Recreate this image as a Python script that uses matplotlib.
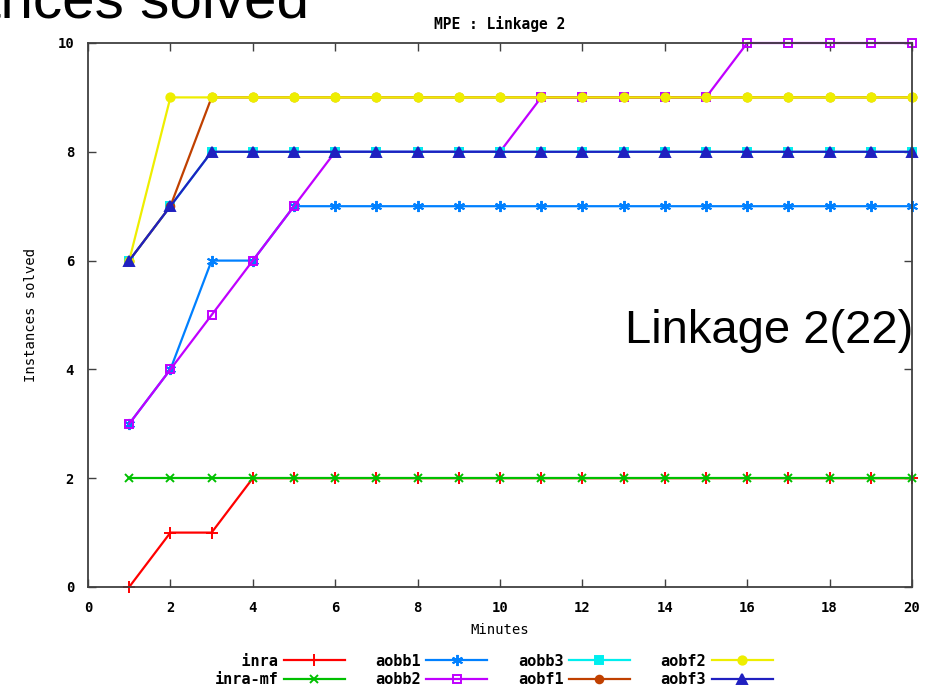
import matplotlib
matplotlib.use("Agg")
import matplotlib.pyplot as plt

# minutes on the x axis
minutes = list(range(1, 21))

# instances solved per solver
inra    = [0, 1, 1, 2, 2, 2, 2, 2, 2, 2, 2, 2, 2, 2, 2, 2, 2, 2, 2, 2]
inra_mf = [2, 2, 2, 2, 2, 2, 2, 2, 2, 2, 2, 2, 2, 2, 2, 2, 2, 2, 2, 2]
aobb1   = [3, 4, 6, 6, 7, 7, 7, 7, 7, 7, 7, 7, 7, 7, 7, 7, 7, 7, 7, 7]
aobb2   = [3, 4, 5, 6, 7, 8, 8, 8, 8, 8, 9, 9, 9, 9, 9, 10, 10, 10, 10, 10]
aobb3   = [6, 7, 8, 8, 8, 8, 8, 8, 8, 8, 8, 8, 8, 8, 8, 8, 8, 8, 8, 8]
aobf1   = [6, 7, 9, 9, 9, 9, 9, 9, 9, 9, 9, 9, 9, 9, 9, 9, 9, 9, 9, 9]
aobf2   = [6, 9, 9, 9, 9, 9, 9, 9, 9, 9, 9, 9, 9, 9, 9, 9, 9, 9, 9, 9]
aobf3   = [6, 7, 8, 8, 8, 8, 8, 8, 8, 8, 8, 8, 8, 8, 8, 8, 8, 8, 8, 8]

names = ["inra", "inra-mf", "aobb1", "aobb2", "aobb3", "aobf1", "aobf2", "aobf3"]
series = [inra, inra_mf, aobb1, aobb2, aobb3, aobf1, aobf2, aobf3]
colors = ["#ff0000", "#00c000", "#0080ff", "#c000ff",
          "#00eeee", "#c04000", "#eeee00", "#2020c0"]
markers = ["+", "x", (6, 2, 0), "s", "s", "o", "o", "^"]
msizes = [8, 6, 8, 6, 5.5, 5.5, 6, 6.5]
filled = [True, True, True, False, True, True, True, True]

mono = "DejaVu Sans Mono"

fig = plt.figure(figsize=(9.33, 6.93), dpi=100)
ax = fig.add_axes([88 / 933, 1 - 587 / 693, (912 - 88) / 933, (587 - 43) / 693])

for name, ys, c, m, ms, f in zip(names, series, colors, markers, msizes, filled):
    # first legend column is right-aligned by padding in the monospace font
    label = name.rjust(7) if name.startswith("inra") else name
    ax.plot(minutes, ys, color=c, lw=1.6, marker=m, markersize=ms,
            markeredgewidth=1.4, markerfacecolor=c if f else "none",
            markeredgecolor=c, clip_on=False, label=label)

ax.set_xlim(0, 20)
ax.set_ylim(0, 10)
ax.set_xticks(range(0, 21, 2))
ax.set_yticks(range(0, 11, 2))
ax.tick_params(direction="in", length=6, width=1, color="#404040",
               top=True, right=True, pad=10)
for lbl in ax.get_xticklabels() + ax.get_yticklabels():
    lbl.set_fontfamily(mono)
    lbl.set_fontweight("bold")
    lbl.set_fontsize(10)
for sp in ax.spines.values():
    sp.set_color("#404040")
    sp.set_linewidth(1.3)

ax.set_title("MPE : Linkage 2", fontfamily=mono, fontweight="bold",
             fontsize=10.5, pad=10)
ax.set_xlabel("Minutes", fontfamily=mono, fontsize=10, labelpad=6)
ax.set_ylabel("Instances solved", fontfamily=mono, fontsize=10, labelpad=14)

leg = fig.legend(loc="lower center", bbox_to_anchor=(0.529, -0.011), ncol=4,
                 markerfirst=False, frameon=False, handlelength=4.0,
                 columnspacing=2.0, handletextpad=0.35, labelspacing=0.2,
                 prop={"family": mono, "weight": "bold", "size": 11})

# large labels around the chart
fig.text(-126 / 933, 1 - 17 / 693, "Instances solved", fontfamily="Liberation Sans",
         fontsize=42, va="baseline", ha="left")
fig.text(625 / 933, 1 - 343 / 693, "Linkage 2(22)", fontfamily="Liberation Sans",
         fontsize=34, va="baseline", ha="left")

fig.savefig("out.png", dpi=100)
